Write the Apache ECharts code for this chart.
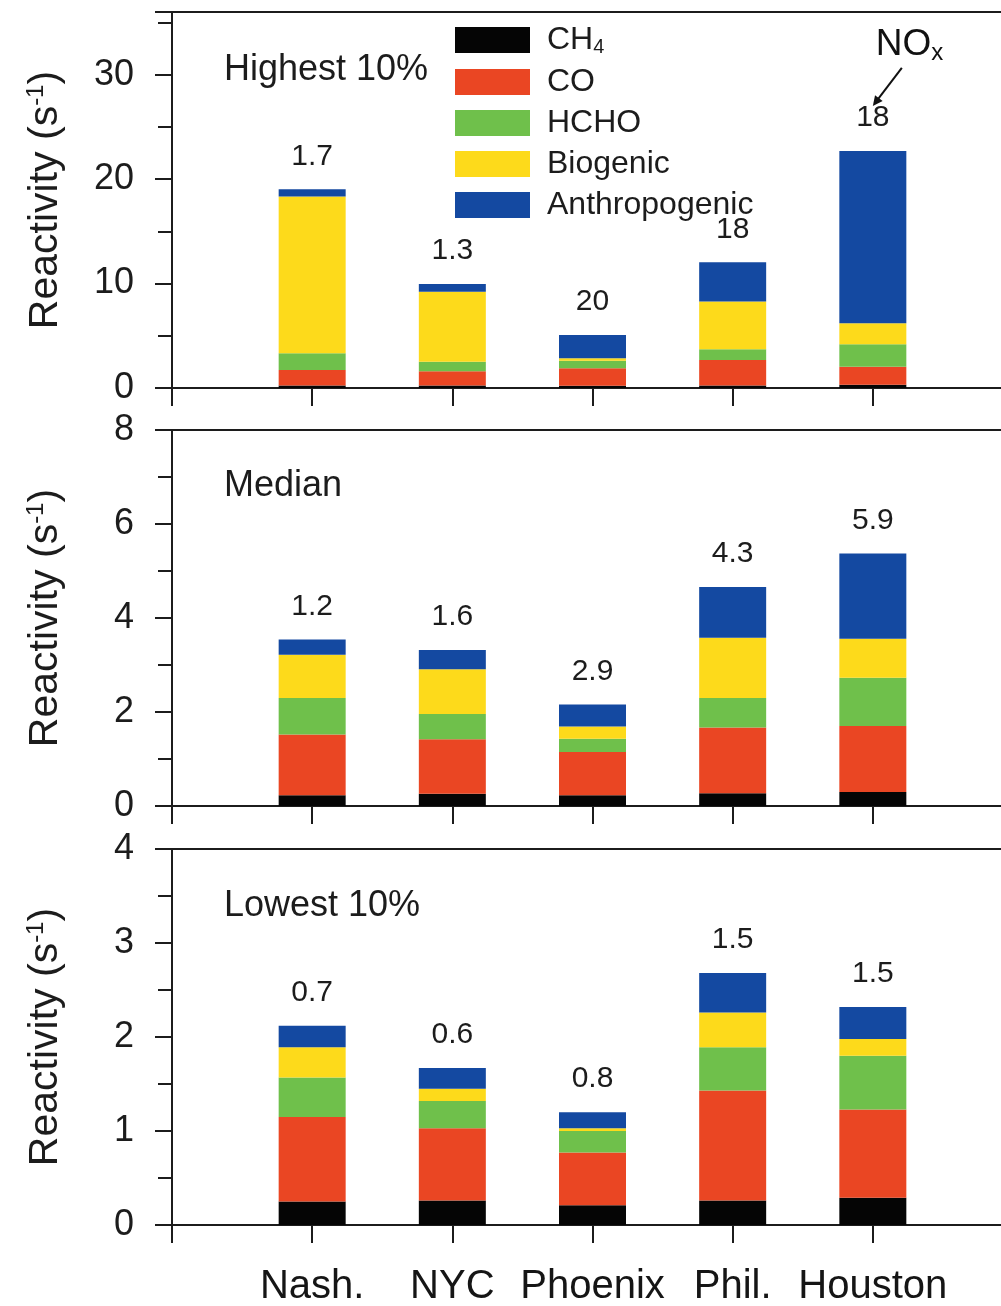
<!DOCTYPE html>
<html>
<head>
<meta charset="utf-8">
<script src="https://cdn.jsdelivr.net/npm/echarts@6/dist/echarts.min.js"></script>
<style>
  html, body { margin: 0; padding: 0; background: #ffffff; }
  #chart { width: 1001px; height: 1306px; }
</style>
</head>
<body>
<div id="chart"></div>
<script>
// Cities on the category axis
const cities = ['Nash.', 'NYC', 'Phoenix', 'Phil.', 'Houston'];
const species = ['CH4', 'CO', 'HCHO', 'Biogenic', 'Anthropogenic'];
const speciesColors = ['#050505', '#EA4623', '#6FC04B', '#FDDA1B', '#1449A1'];

// Highest 10% of OH reactivity (s^-1)
const highCH4  = [0.25, 0.25, 0.22, 0.25, 0.30];
const highCO   = [1.47, 1.35, 1.68, 2.43, 1.74];
const highHCHO = [1.60, 0.92, 0.70, 1.02, 2.14];
const highBio  = [15.01, 6.70, 0.25, 4.57, 2.01];
const highAnth = [0.70, 0.74, 2.23, 3.77, 16.51];
const highNOx  = ['1.7', '1.3', '20', '18', '18'];

// Median
const medCH4  = [0.23, 0.26, 0.23, 0.27, 0.30];
const medCO   = [1.29, 1.16, 0.92, 1.40, 1.40];
const medHCHO = [0.78, 0.54, 0.28, 0.63, 1.03];
const medBio  = [0.92, 0.95, 0.26, 1.28, 0.83];
const medAnth = [0.32, 0.41, 0.47, 1.08, 1.81];
const medNOx  = ['1.2', '1.6', '2.9', '4.3', '5.9'];

// Lowest 10%
const lowCH4  = [0.25, 0.26, 0.21, 0.26, 0.29];
const lowCO   = [0.90, 0.77, 0.56, 1.17, 0.94];
const lowHCHO = [0.42, 0.29, 0.23, 0.46, 0.57];
const lowBio  = [0.32, 0.13, 0.03, 0.37, 0.18];
const lowAnth = [0.23, 0.22, 0.17, 0.42, 0.34];
const lowNOx  = ['0.7', '0.6', '0.8', '1.5', '1.5'];

const panelTitles = ['Highest 10%', 'Median', 'Lowest 10%'];
const yMax = [36, 8, 4];
const yInterval = [10, 2, 1];

const panels = [
  { stack: 'high', values: [highCH4, highCO, highHCHO, highBio, highAnth], nox: highNOx },
  { stack: 'med',  values: [medCH4, medCO, medHCHO, medBio, medAnth],      nox: medNOx },
  { stack: 'low',  values: [lowCH4, lowCO, lowHCHO, lowBio, lowAnth],      nox: lowNOx }
];

// empty slots at both ends so the cities sit one band in from the frame
const categories = [''].concat(cities, ['']);
const pad = arr => [null].concat(arr, [null]);

const INK = '#1c1c1c';
const FONT = '"Liberation Sans", Arial, Helvetica, sans-serif';

const gridTops = [12, 430, 849];
const gridHeight = 376;

const grids = gridTops.map(t => ({
  left: 172, right: -12, top: t, height: gridHeight,
  show: true, borderColor: INK, borderWidth: 2, backgroundColor: 'transparent',
  containLabel: false, outerBoundsMode: 'none'
}));

const xAxes = gridTops.map((t, i) => ({
  type: 'category', gridIndex: i, data: categories, boundaryGap: false,
  axisLine: { show: true, lineStyle: { color: INK, width: 2 } },
  axisTick: { show: true, inside: false, length: 18, alignWithLabel: true,
              lineStyle: { color: INK, width: 2 } },
  axisLabel: { show: i === 2, interval: 0, margin: 42, color: '#151515',
               fontSize: 40, fontFamily: FONT },
  splitLine: { show: false }
}));

const yAxes = gridTops.map((t, i) => ({
  type: 'value', gridIndex: i, min: 0, max: yMax[i], interval: yInterval[i],
  name: 'Reactivity (s{sup|-1})', nameLocation: 'middle', nameGap: 104,
  nameMoveOverlap: false,
  nameTextStyle: { color: INK, fontSize: 41, fontFamily: FONT,
                   rich: { sup: { fontSize: 24, fontFamily: FONT, color: INK, padding: [0, 0, 20, 0] } } },
  axisLine: { show: true, lineStyle: { color: INK, width: 2 } },
  axisTick: { show: true, inside: false, length: 17, lineStyle: { color: INK, width: 2 } },
  minorTick: { show: true, splitNumber: 2, length: 14, lineStyle: { color: INK, width: 2 } },
  axisLabel: { margin: 38, color: INK, fontSize: 36, fontFamily: FONT,
               formatter: v => (Math.abs(v / yInterval[i] - Math.round(v / yInterval[i])) < 1e-9 ? String(v) : '') },
  splitLine: { show: false }
}));

const series = [];
panels.forEach((p, gi) => {
  species.forEach((sp, si) => {
    const s = {
      name: sp, type: 'bar', stack: p.stack,
      xAxisIndex: gi, yAxisIndex: gi,
      barWidth: 67,
      itemStyle: { color: speciesColors[si] },
      emphasis: { disabled: true },
      data: pad(p.values[si])
    };
    if (si === species.length - 1) {
      s.label = {
        show: true, position: 'top', distance: 18,
        color: INK, fontSize: 30, fontFamily: FONT,
        formatter: prm => p.nox[prm.dataIndex - 1]
      };
    }
    series.push(s);
  });
});

const titles = panelTitles.map((txt, i) => ({
  text: txt, left: 224, top: [52, 468, 888][i], padding: 0,
  textStyle: { color: INK, fontSize: 36, fontWeight: 'normal', fontFamily: FONT, lineHeight: 36 }
}));

const chart = echarts.init(document.getElementById('chart'), null, { renderer: 'canvas' });
chart.setOption({
  animation: false,
  backgroundColor: '#ffffff',
  title: titles,
  legend: {
    data: species, orient: 'vertical', left: 455, top: 24, padding: 0,
    icon: 'rect', itemWidth: 75, itemHeight: 26, itemGap: 9,
    selectedMode: false,
    formatter: n => (n === 'CH4' ? '{m|CH}{sub|4}' : n),
    textStyle: {
      color: INK, fontSize: 32, fontFamily: FONT, padding: [0, 0, 0, 12],
      rich: {
        m: { fontSize: 32, fontFamily: FONT, color: INK },
        sub: { fontSize: 20, fontFamily: FONT, color: INK, padding: [14, 0, 0, 0] }
      }
    }
  },
  grid: grids,
  xAxis: xAxes,
  yAxis: yAxes,
  series: series
});

// NOx call-out pointing at the Houston label in the top panel
const houstonTop = highCH4[4] + highCO[4] + highHCHO[4] + highBio[4] + highAnth[4];
const pt = chart.convertToPixel({ gridIndex: 0 }, ['Houston', houstonTop]);
const tip = [pt[0], pt[1] - 45];
const tail = [tip[0] + 29, tip[1] - 38];
const ang = Math.atan2(tip[1] - tail[1], tip[0] - tail[0]);
const head = 11, spread = 0.45;
chart.setOption({
  graphic: [
    { type: 'line', shape: { x1: tail[0], y1: tail[1], x2: tip[0] + Math.cos(ang) * -6, y2: tip[1] + Math.sin(ang) * -6 },
      style: { stroke: '#111', lineWidth: 2 } },
    { type: 'polygon', shape: { points: [
        tip,
        [tip[0] - head * Math.cos(ang - spread), tip[1] - head * Math.sin(ang - spread)],
        [tip[0] - head * Math.cos(ang + spread), tip[1] - head * Math.sin(ang + spread)]
      ] }, style: { fill: '#111' } },
    { type: 'text', left: tip[0] + 3, top: tip[1] - 80,
      style: { text: '{b|NO}{s|x}', fill: '#111', font: '37px ' + FONT,
               rich: { b: { fontSize: 37, fontFamily: FONT, fill: '#111' },
                       s: { fontSize: 24, fontFamily: FONT, fill: '#111', padding: [18, 0, 0, 0] } } } }
  ]
});
</script>
</body>
</html>
